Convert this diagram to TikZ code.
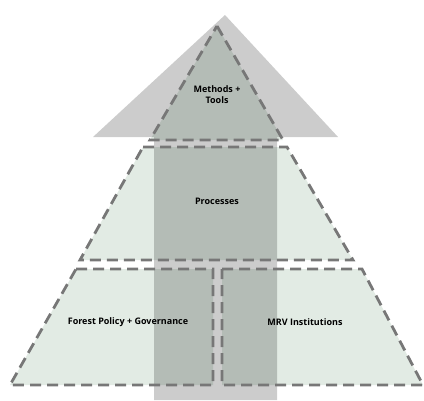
\documentclass[tikz,border=0pt]{standalone}
\usepackage{fontspec}
\setmainfont{Open Sans}
\usetikzlibrary{calc}

\definecolor{layergreen}{HTML}{E2EBE4}
\definecolor{arrowgray}{HTML}{CCCCCC}
\definecolor{edgegray}{HTML}{777777}

\tikzset{
  layer/.style={fill=layergreen},
  layeredge/.style={draw=edgegray, line width=2.8pt, dash pattern=on 11pt off 6pt, line join=miter},
  label/.style={font=\bfseries\fontsize{9}{11}\selectfont, align=center, text=black}
}

\begin{document}
\begin{tikzpicture}[x=1pt,y=-1pt]
    % Fix the page size
    \useasboundingbox (0,0) rectangle (424,400);

    % Corners of the layers
    \coordinate (apex) at (217,26);
    \coordinate (tl) at (150,140);
    \coordinate (tr) at (283,140);
    \coordinate (ml) at (143,147);
    \coordinate (mr) at (287,147);
    \coordinate (mbl) at (80,260);
    \coordinate (mbr) at (353,260);
    \coordinate (bl) at (76,269);
    \coordinate (bm1) at (213,269);
    \coordinate (bm2) at (222,269);
    \coordinate (br) at (362,269);
    \coordinate (fl) at (10,385);
    \coordinate (fm1) at (213,385);
    \coordinate (fm2) at (222,385);
    \coordinate (fr) at (423,385);

    % Fill the layers
    \fill[layer] (apex) -- (tr) -- (tl) -- cycle;
    \fill[layer] (ml) -- (mr) -- (mbr) -- (mbl) -- cycle;
    \fill[layer] (bl) -- (bm1) -- (fm1) -- (fl) -- cycle;
    \fill[layer] (bm2) -- (br) -- (fr) -- (fm2) -- cycle;

    % Draw the big arrow behind the dashes
    \fill[arrowgray, blend mode=multiply]
        (225,15) -- (338,137) -- (277,137) -- (277,400)
        -- (154,400) -- (154,137) -- (93,137) -- cycle;

    % Draw the dashed outlines
    \draw[layeredge] (apex) -- (tr) -- (tl) -- cycle;
    \draw[layeredge] (ml) -- (mr) -- (mbr) -- (mbl) -- cycle;
    \draw[layeredge] (bl) -- (bm1) -- (fm1) -- (fl) -- cycle;
    \draw[layeredge] (bm2) -- (br) -- (fr) -- (fm2) -- cycle;

    % Add the labels
    \node[label] (tools) at (217,95) {Methods +\\Tools};
    \node[label] (proc) at (217,201) {Processes};
    \node[label] (policy) at (128,322) {Forest Policy + Governance};
    \node[label] (mrv) at (305,322) {MRV Institutions};
\end{tikzpicture}
\end{document}
